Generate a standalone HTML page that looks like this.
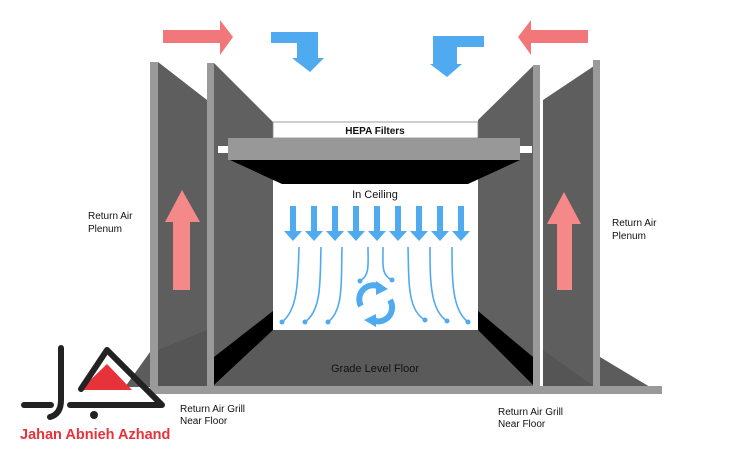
<!DOCTYPE html>
<html><head><meta charset="utf-8"><style>
html,body{margin:0;padding:0;background:#fff;}
svg{display:block}
text{font-family:"Liberation Sans",sans-serif;}
</style></head><body>
<svg width="750" height="450" viewBox="0 0 750 450" xmlns="http://www.w3.org/2000/svg">
<rect width="750" height="450" fill="#fff"/>
<!-- outer floor triangles -->
<polygon points="150,352 150,387 125,387" fill="#5c5c5c"/>
<polygon points="600,357 600,387 650,387" fill="#5c5c5c"/>
<!-- room floor -->
<polygon points="214,330 536,330 536,387 214,387" fill="#5a5a5a"/>
<!-- left panels -->
<polygon points="158,62 207,100 207,387 158,387" fill="#5e5e5e"/>
<polygon points="158,350 207,330 207,387 158,387" fill="#555"/>
<polygon points="214,63 273,122 273,330 214,387" fill="#606060"/>
<polygon points="273,311 273,330 214,385 214,357" fill="#000"/>
<!-- right panels -->
<polygon points="600,62 543,100 543,387 600,387" fill="#5e5e5e"/>
<polygon points="543,350 595,387 543,387" fill="#555"/>
<polygon points="533,66 478,120 478,330 533,387" fill="#606060"/>
<polygon points="478,311 478,330 533,385 533,357" fill="#000"/>
<!-- poles -->
<rect x="150" y="62" width="8" height="326" fill="#9a9a9a"/>
<rect x="207" y="63" width="7" height="325" fill="#9a9a9a"/>
<rect x="533" y="65" width="7" height="323" fill="#9a9a9a"/>
<rect x="593" y="60" width="7" height="328" fill="#9a9a9a"/>
<rect x="150" y="386" width="512" height="8" fill="#9a9a9a"/>
<!-- room interior -->
<rect x="273" y="183" width="205" height="147" fill="#fff"/>
<!-- ceiling -->
<rect x="273" y="122" width="205" height="16" fill="#fff" stroke="#888" stroke-width="0.8"/>
<text x="375" y="134" font-size="10" text-anchor="middle" font-weight="bold" fill="#111">HEPA Filters</text>
<rect x="218" y="146" width="314" height="7" fill="#fff"/>
<rect x="228" y="138" width="292" height="22" fill="#989898"/>
<polygon points="230,160 520,160 468,184 282,184" fill="#000"/>
<text x="375" y="198" font-size="11" text-anchor="middle" fill="#111">In Ceiling</text>
<text x="375" y="372" font-size="11" text-anchor="middle" fill="#111">Grade Level Floor</text>
<!-- top arrows -->
<polygon points="163,30 220,30 220,20 233,37 220,55 220,43 163,43" fill="#f2777a"/>
<polygon points="588,30 531,30 531,20 518,37 531,55 531,43 588,43" fill="#f2777a"/>
<polygon points="271,32 318,32 318,58 324,58 310,72 292,58 297,58 297,43 271,43" fill="#50aaf0"/>
<polygon points="484,36 484,47 457,47 457,64 462,64 447,77 430,64 433,64 433,36" fill="#50aaf0"/>
<!-- plenum arrows -->
<polygon points="182,190 200,222 190,222 190,290 173,290 173,222 165,222" fill="#f58888"/>
<polygon points="564,192 581,224 572,224 572,290 557,290 557,224 547,224" fill="#f58888"/>
<!-- room down arrows -->
<g fill="#50aaf0">
<g id="da"><polygon points="290,206 296,206 296,231 302,231 293,241 284,231 290,231"/></g>
<use href="#da" x="21"/><use href="#da" x="42"/><use href="#da" x="63"/><use href="#da" x="84"/>
<use href="#da" x="105"/><use href="#da" x="126"/><use href="#da" x="147"/><use href="#da" x="168"/>
</g>
<g fill="none" stroke="#50aaf0" stroke-width="1.6">
<path d="M299,247 C298,280 298,310 282,322"/>
<path d="M321,247 C320,280 322,310 305,322"/>
<path d="M342,247 C341,280 344,310 328,322"/>
<path d="M368,247 C368,265 370,275 360,281"/>
<path d="M383,247 C383,265 381,275 392,280"/>
<path d="M408,247 C409,280 407,310 425,320"/>
<path d="M430,247 C430,280 430,310 447,321"/>
<path d="M452,247 C452,280 452,310 468,322"/>
</g>
<g fill="#50aaf0">
<circle cx="282" cy="322" r="2.5"/><circle cx="305" cy="322" r="2.5"/><circle cx="328" cy="322" r="2.5"/>
<circle cx="425" cy="320" r="2.5"/><circle cx="447" cy="321" r="2.5"/><circle cx="468" cy="322" r="2.5"/>
<circle cx="360" cy="281" r="2.5"/><circle cx="392" cy="280" r="2.5"/>
</g>
<g fill="none" stroke="#50aaf0" stroke-width="6">
<path d="M361,306 A14,14 0 0 1 380,287"/>
<path d="M390,300 A14,14 0 0 1 372,320"/>
</g>
<polygon points="376,281 388,289 376,295" fill="#50aaf0"/>
<polygon points="376,314 364,320 376,327" fill="#50aaf0"/>
<!-- labels -->
<text x="88" y="219" font-size="10" fill="#111">Return Air</text>
<text x="88" y="232" font-size="10" fill="#111">Plenum</text>
<text x="612" y="226" font-size="10" fill="#111">Return Air</text>
<text x="612" y="239" font-size="10" fill="#111">Plenum</text>
<text x="180" y="412" font-size="10" fill="#111">Return Air Grill</text>
<text x="180" y="424" font-size="10" fill="#111">Near Floor</text>
<text x="498" y="415" font-size="10" fill="#111">Return Air Grill</text>
<text x="498" y="427" font-size="10" fill="#111">Near Floor</text>
<!-- logo -->
<polygon points="107,364 132,390 80,390" fill="#e8323a"/>
<g fill="none" stroke="#222" stroke-width="6" stroke-linecap="round" stroke-linejoin="round">
<path d="M61,348 L61,400 Q61,414 50,417"/>
<path d="M24,405 L51,405"/>
<path d="M81,389 L107,350 L162,405 L70,405"/>
</g>
<circle cx="94" cy="415" r="4" fill="#222"/>
<text x="20" y="439" font-size="14.5" font-weight="bold" fill="#e8323a">Jahan Abnieh Azhand</text>
</svg>
</body></html>
